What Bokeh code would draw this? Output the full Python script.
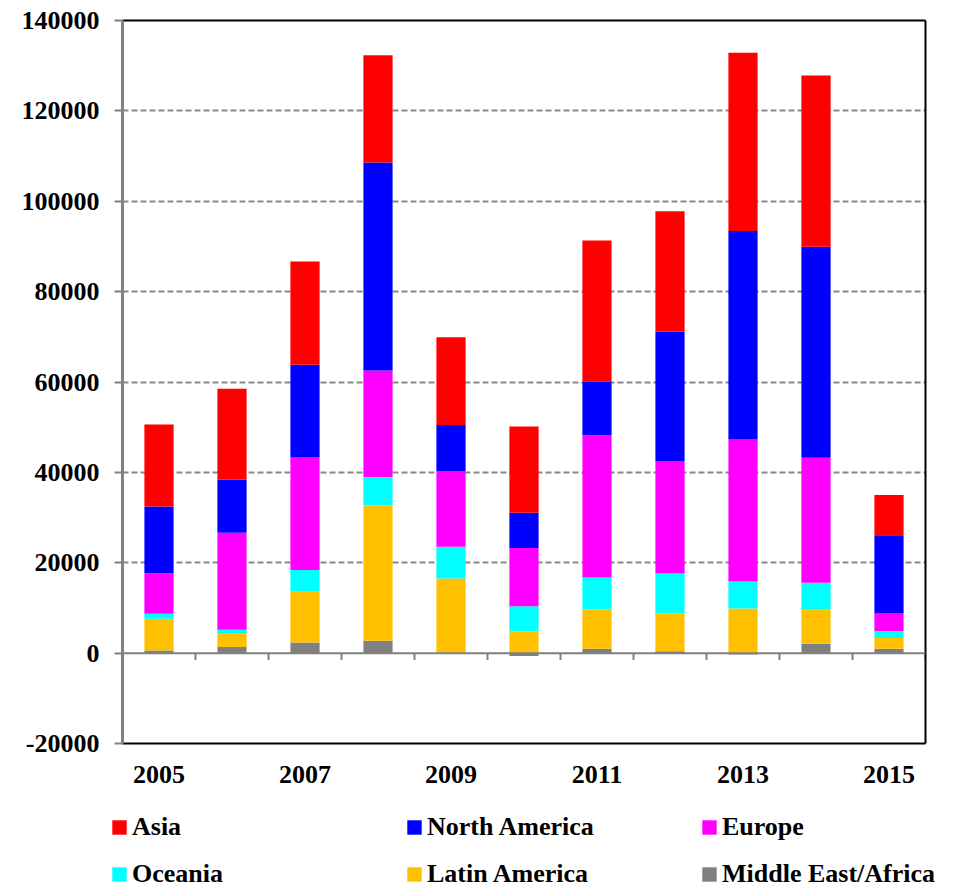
import numpy as np
from bokeh.plotting import figure
from bokeh.layouts import column, row
from bokeh.models import (Legend, LegendItem, FixedTicker, LinearAxis, Span,
                          BasicTickFormatter, Range1d)
from bokeh.embed import file_html
from bokeh.resources import INLINE

# Yearly values by region
years = [2005, 2006, 2007, 2008, 2009, 2010, 2011, 2012, 2013, 2014, 2015]
middle_east_africa = [600, 1330, 2360, 2730, 100, -660, 960, 440, -290, 2060, 960]
latin_america = [7000, 2950, 11210, 30020, 16430, 4800, 8710, 8340, 9890, 7530, 2360]
oceania = [1100, 880, 4800, 6200, 7000, 5600, 7080, 8850, 5980, 5970, 1550]
europe = [9000, 21470, 24930, 23610, 16750, 12840, 31490, 24860, 31420, 27660, 3910]
north_america = [14760, 11730, 20500, 46030, 10180, 7810, 11880, 28620, 46100, 46700, 17330]
asia = [18140, 20140, 22880, 23710, 19470, 19120, 31210, 26700, 39460, 37920, 8860]

y_ticks = [-20000, 0, 20000, 40000, 60000, 80000, 100000, 120000, 140000]

# bottom-to-top stacking order
series = [
    ("Middle East/Africa", middle_east_africa, "#808080"),
    ("Latin America", latin_america, "#FFC000"),
    ("Oceania", oceania, "#00FFFF"),
    ("Europe", europe, "#FF00FF"),
    ("North America", north_america, "#0000FF"),
    ("Asia", asia, "#FF0000"),
]
colors = {name: color for name, _, color in series}
legend_order = ["Asia", "North America", "Europe",
                "Oceania", "Latin America", "Middle East/Africa"]

FONT = "Liberation Serif"

p = figure(width=963, height=795, output_backend="svg", toolbar_location=None,
           x_range=Range1d(years[0] - 0.5, years[-1] + 0.5),
           y_range=Range1d(y_ticks[0], y_ticks[-1]),
           x_axis_location=None, y_axis_location=None)
p.min_border_left = 122
p.min_border_right = 38
p.min_border_top = 20
p.min_border_bottom = 52
p.outline_line_color = None
p.background_fill_color = "white"
p.border_fill_color = "white"
p.xgrid.visible = False

# left value axis
yax = LinearAxis(ticker=FixedTicker(ticks=y_ticks),
                 formatter=BasicTickFormatter(use_scientific=False))
yax.major_label_overrides = {t: ("-%d" % -t if t < 0 else "%d" % t) for t in y_ticks}
yax.axis_line_color = "#808080"
yax.axis_line_width = 3
yax.major_tick_line_color = "#808080"
yax.major_tick_line_width = 2
yax.major_tick_out = 8
yax.major_tick_in = 0
yax.minor_tick_line_color = None
yax.major_label_text_font = FONT
yax.major_label_text_font_style = "bold"
yax.major_label_text_font_size = "26px"
yax.major_label_text_color = "black"
yax.major_label_standoff = 15
p.add_layout(yax, "left")

# bottom axis: year labels and the lower border
xax = LinearAxis(ticker=FixedTicker(ticks=years[::2]))
xax.axis_line_color = "black"
xax.axis_line_width = 2
xax.major_tick_line_color = None
xax.minor_tick_line_color = None
xax.major_label_text_font = FONT
xax.major_label_text_font_style = "bold"
xax.major_label_text_font_size = "26px"
xax.major_label_text_color = "black"
xax.major_label_standoff = 16
p.add_layout(xax, "below")

# top and right borders
for side in ("above", "right"):
    ax = LinearAxis(ticker=FixedTicker(ticks=[]))
    ax.axis_line_color = "black"
    ax.axis_line_width = 2
    ax.major_tick_line_color = None
    ax.minor_tick_line_color = None
    ax.major_label_text_font_size = "0px"
    p.add_layout(ax, side)

# dashed horizontal gridlines
p.ygrid.ticker = FixedTicker(ticks=y_ticks[2:-1])
p.ygrid.grid_line_color = "#888888"
p.ygrid.grid_line_width = 2
p.ygrid.grid_line_dash = "6 3"

# stacked bars, with positive and negative parts stacked separately
x = np.array(years, dtype=float)
pos_base = np.zeros(len(years))
neg_base = np.zeros(len(years))
for name, vals, color in series:
    v = np.array(vals, dtype=float)
    bottom = np.where(v >= 0, pos_base, neg_base)
    top = bottom + v
    pos_base = np.where(v >= 0, top, pos_base)
    neg_base = np.where(v < 0, top, neg_base)
    p.vbar(x=x, bottom=bottom, top=top, width=0.4, fill_color=color, line_color=None)

# zero line with category-boundary tick marks
p.add_layout(Span(location=0, dimension="width", line_color="#808080", line_width=2))
bounds = np.arange(years[0] - 0.5, years[-1] + 1.0, 1.0)[1:]
p.segment(x0=bounds, x1=bounds, y0=np.zeros(len(bounds)),
          y1=np.full(len(bounds), -1500.0), line_color="#808080", line_width=2)

# legend strip under the chart
lg = figure(width=963, height=95, output_backend="svg", toolbar_location=None,
            x_range=Range1d(0, 1), y_range=Range1d(0, 1),
            x_axis_location=None, y_axis_location=None)
lg.min_border_left = 0
lg.min_border_right = 0
lg.min_border_top = 0
lg.min_border_bottom = 0
lg.outline_line_color = None
lg.grid.visible = False
# zero-height swatch renderers that only feed the legend
swatches = {n: lg.vbar(x=[0.0], bottom=[0.0], top=[0.0], width=0.0,
                       fill_color=colors[n], line_color=None)
            for n in legend_order}

legend = Legend(items=[LegendItem(label=n, renderers=[swatches[n]]) for n in legend_order],
                orientation="horizontal", ncols=3, location=(110, 1))
legend.glyph_width = 18
legend.glyph_height = 18
legend.label_standoff = 4
legend.label_width = 256
legend.spacing = 17
legend.padding = 0
legend.margin = 0
legend.border_line_color = None
legend.background_fill_alpha = 0
legend.label_text_font = FONT
legend.label_text_font_style = "bold"
legend.label_text_font_size = "26px"
legend.label_text_color = "black"
lg.add_layout(legend, "center")

layout = column(p, row(lg), spacing=0)
open("out.html", "w").write(file_html(layout, INLINE))
